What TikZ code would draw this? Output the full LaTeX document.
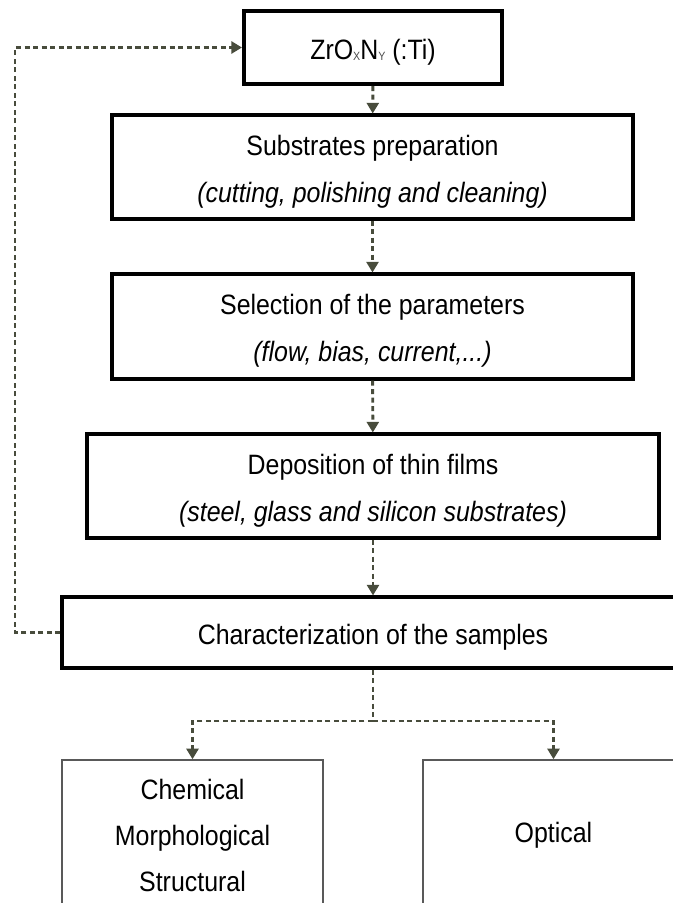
\documentclass[tikz,border=0pt]{standalone}
\usepackage{fontspec}
\setmainfont[FakeStretch=0.89]{Liberation Sans}
\usepackage{tikz}
\usetikzlibrary{arrows.meta}

\definecolor{flowgray}{RGB}{72,76,60}
\newcommand{\boxstrut}{\rule{0pt}{22pt}}

\begin{document}
\begin{tikzpicture}[
    x=0.75pt,y=-0.75pt,
    every node/.style={font=\fontsize{21pt}{35pt}\selectfont,align=center},
    mainbox/.style={draw,line width=2.3pt,inner sep=0pt},
    resbox/.style={draw=black!65,line width=1.1pt,inner sep=0pt},
    flow/.style={flowgray,line width=2.2pt,dash pattern=on 3.8pt off 2.6pt,
      -{Triangle[width=9pt,length=8pt]}},
    flowline/.style={flowgray,line width=2.2pt,dash pattern=on 3.8pt off 2.6pt}]
  \useasboundingbox
    (0,0)
    rectangle
    (673,903);
  \clip
    (0,0)
    rectangle
    (673,903);
  \coordinate (c1) at (373,47.5);
  \coordinate (c2) at (372.5,167);
  \coordinate (c3) at (372.5,326.5);
  \coordinate (c4) at (373,486);
  \coordinate (c5) at (373,632.5);
  \coordinate (c6) at (192.5,835);
  \coordinate (c7) at (553.5,835);
  \node[mainbox,line width=3pt,minimum width=193.5pt,minimum height=54.75pt]
    (film)
    at (c1)
    {\boxstrut ZrO\raisebox{-1pt}{\fontsize{9pt}{9pt}\selectfont\color{black!70}X}N\raisebox{-1pt}{\fontsize{9pt}{9pt}\selectfont\color{black!70}Y} (:Ti)};
  \node[mainbox,minimum width=390.75pt,minimum height=78pt]
    (subs)
    at (c2)
    {\boxstrut Substrates preparation\\ \textit{(cutting, polishing and cleaning)}};
  \node[mainbox,minimum width=390.75pt,minimum height=78.75pt]
    (param)
    at (c3)
    {\boxstrut Selection of the parameters\\ \textit{(flow, bias, current,...)}};
  \node[mainbox,minimum width=429pt,minimum height=78pt]
    (depo)
    at (c4)
    {\boxstrut Deposition of thin films\\ \textit{(steel, glass and silicon substrates)}};
  \node[mainbox,minimum width=466.5pt,minimum height=53.25pt]
    (charac)
    at (c5)
    {\boxstrut Characterization of the samples};
  \node[resbox,minimum width=195.75pt,minimum height=112.5pt,font=\fontsize{21pt}{34.5pt}\selectfont]
    (chem)
    at (c6)
    {Chemical\\ Morphological\\ Structural};
  \node[resbox,minimum width=195.75pt,minimum height=112.5pt]
    (optic)
    at (c7)
    {Optical};
  \coordinate (back) at (15,632.5);
  \coordinate (split) at (373,721);
  \draw[flow]
    (film)
    --
    (subs);
  \draw[flow]
    (subs)
    --
    (param);
  \draw[flow]
    (param)
    --
    (depo);
  \draw[flow]
    (depo)
    --
    (charac);
  \draw[flowline]
    (charac)
    --
    (split);
  \draw[flow]
    (split)
    -|
    (chem);
  \draw[flow]
    (split)
    -|
    (optic);
  \draw[flow]
    (charac.west)
    --
    (back)
    |-
    (film.west);
\end{tikzpicture}
\end{document}
